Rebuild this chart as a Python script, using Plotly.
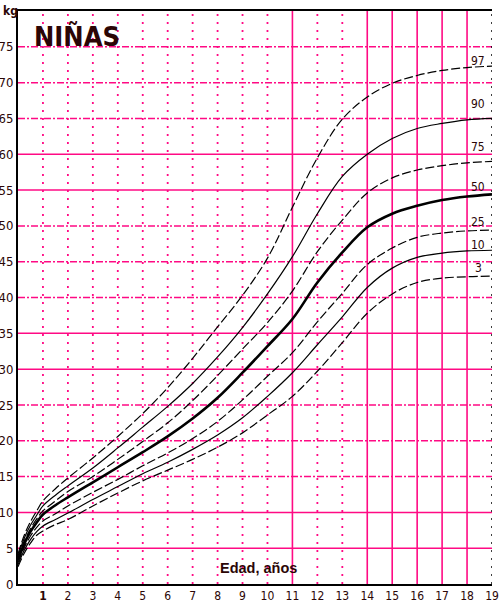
import plotly.graph_objects as go

ages = [0, 0.25, 0.5, 0.75, 1, 1.5, 2, 3, 4, 5, 6, 7, 8, 9, 10, 11, 12, 13, 14, 15, 16, 17, 18, 19]
p97 = [4.2, 6.8, 8.7, 10.2, 11.6, 13.3, 14.8, 17.6, 20.6, 23.8, 27.4, 31.5, 35.9, 40.3, 45.5, 52.6, 59.5, 64.9, 68.0, 69.9, 71.0, 71.7, 72.1, 72.3]
p90 = [3.9, 6.4, 8.2, 9.6, 10.9, 12.4, 13.7, 16.2, 19.0, 21.9, 24.8, 28.0, 31.7, 35.8, 40.5, 45.7, 51.7, 56.9, 60.0, 62.2, 63.6, 64.3, 64.8, 65.0]
p75 = [3.6, 6.0, 7.7, 9.1, 10.2, 11.6, 12.9, 15.0, 17.4, 19.9, 22.5, 25.6, 29.1, 32.8, 36.5, 40.9, 46.4, 50.8, 54.6, 56.7, 57.8, 58.4, 58.8, 59.0]
p50 = [3.3, 5.6, 7.3, 8.6, 9.7, 11.0, 12.1, 14.2, 16.3, 18.4, 20.6, 23.1, 26.0, 29.5, 33.2, 37.0, 42.1, 46.3, 49.8, 51.7, 52.8, 53.6, 54.1, 54.4]
p25 = [3.0, 5.1, 6.7, 7.9, 8.8, 9.8, 10.9, 12.8, 14.6, 16.5, 18.3, 20.3, 22.7, 25.7, 29.0, 32.3, 36.6, 40.6, 44.6, 46.9, 48.4, 49.0, 49.3, 49.4]
p10 = [2.7, 4.7, 6.2, 7.3, 8.1, 9.0, 9.9, 11.8, 13.6, 15.4, 17.0, 18.8, 20.8, 23.2, 26.2, 29.5, 33.4, 37.3, 41.4, 44.1, 45.6, 46.2, 46.5, 46.6]
p3 = [2.4, 4.3, 5.7, 6.8, 7.4, 8.3, 9.0, 10.9, 12.7, 14.4, 15.9, 17.4, 19.1, 21.1, 23.6, 26.2, 29.7, 33.7, 37.8, 40.5, 42.1, 42.7, 42.9, 43.0]

series_names = ["97", "90", "75", "50", "25", "10", "3"]
series_vals = [p97, p90, p75, p50, p25, p10, p3]
label_y = [73.0, 67.0, 61.0, 55.4, 50.6, 47.3, 44.1]

x_ticks = list(range(1, 20))
y_ticks = list(range(0, 80, 5))
y_ticktext = [str(v) for v in y_ticks]
x_ticktext = ["<b>1</b>"] + [str(v) for v in range(2, 20)]

PINK = "#ff0a84"
INK = "#2b0606"
NARROW = "DejaVu Sans Condensed, Liberation Sans, sans-serif"

styles = {
    "97": dict(dash="9px,3px", width=1.2),
    "90": dict(dash="solid", width=1.2),
    "75": dict(dash="9px,3px", width=1.2),
    "50": dict(dash="solid", width=2.6),
    "25": dict(dash="9px,3px", width=1.2),
    "10": dict(dash="solid", width=1.2),
    "3": dict(dash="9px,3px", width=1.2),
}

fig = go.Figure()

shapes = []
solid_h = [5, 10, 30, 35, 55, 60]
for v in range(5, 80, 5):
    shapes.append(dict(type="line", xref="x", yref="y", x0=0, x1=19, y0=v, y1=v,
                       line=dict(color=PINK, width=1.5,
                                 dash="solid" if v in solid_h else "7px,2px,2px,2px"),
                       layer="below"))
solid_v = [11, 14, 15, 16, 17, 18]
for a in range(1, 19):
    shapes.append(dict(type="line", xref="x", yref="y", x0=a, x1=a, y0=0, y1=80,
                       line=dict(color=PINK, width=1.6 if a in solid_v else 1.8,
                                 dash="solid" if a in solid_v else "2px,6px"),
                       layer="below"))
shapes.append(dict(type="line", xref="x", yref="y", x0=19, x1=19, y0=0, y1=80,
                   line=dict(color="black", width=1.5, dash="2px,6px"), layer="below"))

for name, vals in zip(series_names, series_vals):
    st = styles[name]
    fig.add_trace(go.Scatter(x=ages, y=vals, mode="lines", name=name,
                             line=dict(color="black", width=st["width"], dash=st["dash"],
                                       shape="spline", smoothing=1.0),
                             hoverinfo="skip", showlegend=False))

annotations = []
for name, ly in zip(series_names, label_y):
    annotations.append(dict(x=18.45, y=ly, xref="x", yref="y", text=name, showarrow=False,
                            font=dict(family=NARROW, size=12, color=INK),
                            xanchor="center", yanchor="middle"))
annotations.append(dict(x=0.55, y=76.4, xref="x", yref="y", text="<b>NIÑAS</b>", showarrow=False,
                        font=dict(family=NARROW, size=27, color=INK),
                        xanchor="left", yanchor="middle"))
annotations.append(dict(x=9.66, y=2.2, xref="x", yref="y", text="<b>Edad, años</b>", showarrow=False,
                        font=dict(family="Liberation Sans, Arial, sans-serif", size=14.5, color=INK),
                        xanchor="center", yanchor="middle"))
annotations.append(dict(x=-0.036, y=80, xref="paper", yref="y", text="<b>kg</b>", showarrow=False,
                        font=dict(family=NARROW, size=12, color=INK),
                        xanchor="left", yanchor="middle"))

fig.update_layout(
    width=501, height=602,
    margin=dict(l=18, r=9, t=11, b=18, autoexpand=False),
    paper_bgcolor="white", plot_bgcolor="white",
    shapes=shapes, annotations=annotations,
    xaxis=dict(range=[0, 19], showgrid=False, zeroline=False, tickmode="array",
               tickvals=x_ticks, ticktext=x_ticktext, ticks="", automargin=False,
               tickfont=dict(family=NARROW, size=12, color=INK),
               showline=True, linecolor="black", linewidth=2, mirror=True),
    yaxis=dict(range=[0, 80], showgrid=False, zeroline=False, tickmode="array",
               tickvals=y_ticks, ticktext=y_ticktext, ticks="", automargin=False,
               tickfont=dict(family=NARROW, size=13, color=INK),
               showline=True, linecolor="black", linewidth=2),
)

fig.write_html("out.html", config={"displayModeBar": False},
               post_script="document.body.style.margin='0px';document.body.style.padding='0px';document.body.style.overflow='hidden';")
